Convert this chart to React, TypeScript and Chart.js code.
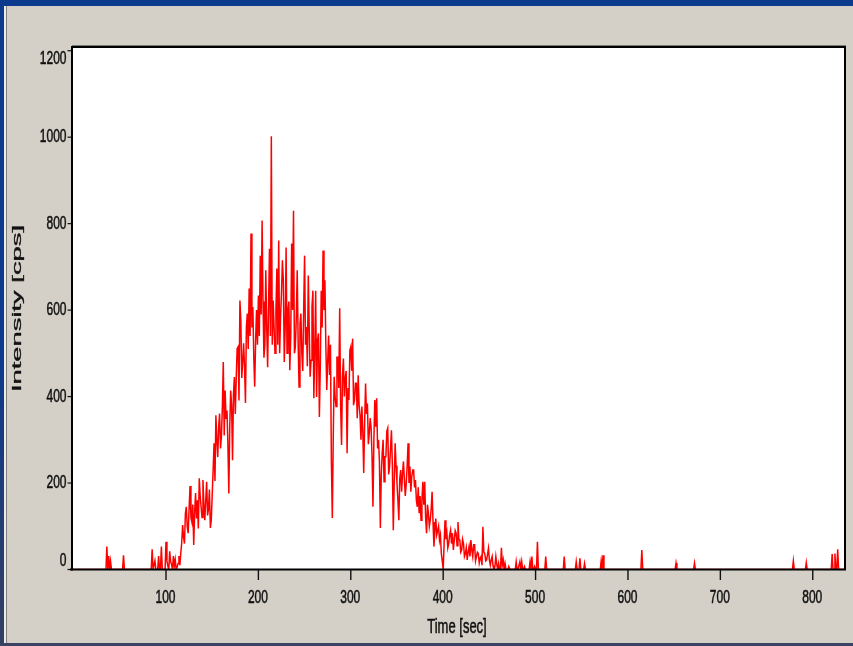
import { useEffect, useRef } from "react";
import { Chart, registerables } from "chart.js";

Chart.register(...registerables);

// Isolated background counts before the elution peak (s, cps)
const PRE_SPIKE_TIMES = [36, 38, 40, 54, 85, 88, 92, 95];
const PRE_SPIKE_VALUES = [53, 31, 19, 33, 47, 20, 31, 53];

// Main transient, one reading per second starting at PEAK_START
const PEAK_START = 98;
const DWELL = 1;
const PEAK_VALUES = [
  // 98 - 117
  0, 0, 64, 20, 8, 0, 42, 18, 12, 0, 31, 8, 23, 0, 5, 14, 31, 10, 38, 62,
  // 118 - 137
  103, 75, 60, 130, 145, 98, 84, 140, 193, 120, 110, 150, 57, 132, 177, 118, 160, 95, 211, 170,
  // 138 - 157
  145, 120, 207, 150, 114, 160, 203, 125, 140, 185, 96, 114, 172, 230, 292, 205, 357, 300, 260, 330,
  // 158 - 177
  361, 280, 307, 376, 480, 310, 414, 350, 368, 290, 176, 330, 414, 380, 253, 403, 445, 360, 442, 511,
  // 178 - 197
  515, 391, 622, 576, 443, 480, 523, 468, 385, 560, 592, 510, 650, 540, 777, 560, 607, 491, 423, 530,
  // 198 - 217
  600, 520, 634, 540, 726, 590, 807, 620, 490, 520, 692, 560, 468, 610, 742, 540, 1002, 520, 622, 560,
  // 218 - 237
  500, 600, 696, 520, 761, 500, 584, 640, 715, 669, 480, 560, 745, 500, 599, 620, 461, 540, 754, 600,
  // 238 - 257
  830, 500, 515, 580, 692, 530, 422, 569, 592, 500, 459, 600, 726, 520, 561, 470, 680, 560, 446, 484,
  // 258 - 277
  607, 645, 396, 500, 645, 399, 530, 546, 353, 470, 645, 560, 738, 600, 669, 520, 415, 480, 541, 450,
  // 278 - 297
  520, 250, 119, 300, 446, 400, 377, 491, 491, 420, 604, 380, 288, 446, 488, 400, 442, 459, 269, 420,
  // 298 - 317
  392, 507, 515, 460, 534, 380, 392, 431, 431, 350, 449, 380, 357, 300, 377, 320, 223, 340, 430, 360,
  // 318 - 337
  384, 290, 315, 350, 327, 260, 145, 300, 392, 330, 396, 280, 300, 250, 96, 220, 269, 300, 203, 261,
  // 338 - 357
  261, 320, 327, 220, 238, 280, 322, 240, 91, 200, 292, 240, 200, 160, 114, 210, 230, 180, 222, 250,
  // 358 - 377
  207, 170, 199, 240, 292, 200, 238, 180, 215, 230, 230, 190, 207, 160, 145, 190, 130, 170, 114, 160,
  // 378 - 397
  203, 150, 203, 120, 84, 150, 130, 100, 114, 140, 180, 110, 53, 90, 118, 80, 90, 100, 68, 80,
  // 398 - 417
  37, 20, 0, 60, 114, 70, 84, 50, 60, 80, 91, 60, 84, 45, 68, 90, 84, 55, 110, 70,
  // 418 - 437
  68, 40, 45, 70, 60, 30, 37, 50, 22, 40, 53, 30, 68, 45, 30, 57, 57, 20, 30, 40,
  // 438 - 457
  37, 15, 26, 30, 10, 99, 40, 37, 20, 22, 35, 49, 22, 10, 22, 30, 8, 0, 7, 30,
  // 458 - 477
  12, 0, 14, 0, 0, 50, 10, 22, 0, 14, 0, 0, 0, 7, 0, 0, 0, 0, 0, 0,
  // 478 - 497
  0, 18, 0, 0, 0, 18, 0, 18, 0, 0, 7, 0, 0, 0, 0, 0, 18, 0, 30, 0,
  // 498 - 512
  0, 7, 0, 0, 64, 0, 0, 0, 0, 0, 0, 0, 0, 30, 0,
];

// Isolated background counts after the peak (s, cps)
const POST_SPIKE_TIMES = [531, 544, 548, 553, 571, 573, 615, 652, 672, 779, 793, 821, 824, 827];
const POST_SPIKE_VALUES = [30, 18, 26, 14, 20, 33, 45, 15, 15, 20, 16, 36, 37, 47];

const RUN_START = -2;
const RUN_END = 836;

const X_TICKS = [100, 200, 300, 400, 500, 600, 700, 800];
const Y_TICKS = [0, 200, 400, 600, 800, 1000, 1200];
const X_TITLE = "Time [sec]";
const Y_TITLE = "Intensity [cps]";

const FONT = '"Liberation Sans", Arial, sans-serif';
const STRETCH = 1.6;

type Pt = { x: number; y: number };

function buildSeries(): Pt[] {
  const pts: Pt[] = [{ x: RUN_START, y: 0 }];
  const addSpike = (t: number, v: number) => {
    pts.push({ x: t - 1, y: 0 }, { x: t, y: v }, { x: t + 1, y: 0 });
  };
  PRE_SPIKE_TIMES.forEach((t, i) => addSpike(t, PRE_SPIKE_VALUES[i]));
  PEAK_VALUES.forEach((v, i) => pts.push({ x: PEAK_START + i * DWELL, y: v }));
  POST_SPIKE_TIMES.forEach((t, i) => addSpike(t, POST_SPIKE_VALUES[i]));
  pts.push({ x: RUN_END, y: 0 });
  return pts.sort((a, b) => a.x - b.x);
}

function stretchedText(
  ctx: CanvasRenderingContext2D,
  text: string,
  x: number,
  y: number,
  align: CanvasTextAlign,
  size: number,
  sy: number
) {
  ctx.save();
  ctx.translate(x, y);
  ctx.scale(1, sy);
  ctx.font = `${size}px ${FONT}`;
  ctx.textAlign = align;
  ctx.textBaseline = "middle";
  ctx.lineWidth = 0.35;
  ctx.strokeStyle = ctx.fillStyle;
  ctx.fillText(text, 0, 0);
  ctx.strokeText(text, 0, 0);
  ctx.restore();
}

const windowFrame = {
  id: "windowFrame",
  beforeDraw(chart: any) {
    const { ctx, width, height, chartArea: a } = chart;
    ctx.save();
    ctx.fillStyle = "#d4d0c8";
    ctx.fillRect(0, 0, width, height);

    const side = ctx.createLinearGradient(0, 0, 0, height);
    side.addColorStop(0, "#0c3a8c");
    side.addColorStop(0.55, "#0c3a8c");
    side.addColorStop(1, "#343f62");
    ctx.fillStyle = side;
    ctx.fillRect(0, 0, 4, height);
    ctx.fillStyle = "#0c3a8c";
    ctx.fillRect(0, 0, width, 6);
    ctx.fillStyle = "#3a4462";
    ctx.fillRect(0, 643, width, 3);
    ctx.fillStyle = "#ecebe6";
    ctx.fillRect(4, 6, 2, 637);
    ctx.fillStyle = "#808080";
    ctx.fillRect(6, 6, 1, 637);

    ctx.fillStyle = "#ffffff";
    ctx.fillRect(a.left, a.top, a.right - a.left, a.bottom - a.top);
    ctx.restore();
  },
  afterDatasetsDraw(chart: any) {
    const { ctx, chartArea: a, scales } = chart;
    const xs = scales.x;
    const ys = scales.y;
    ctx.save();
    // plot frame
    ctx.fillStyle = "#7a7a7a";
    ctx.fillRect(a.left, a.top - 2, 774, 1);
    ctx.fillStyle = "#000000";
    ctx.fillRect(a.left, a.top - 1, 774, 2);
    ctx.fillRect(844, a.top - 1, 2, a.bottom - a.top + 1);
    ctx.fillRect(71, a.top - 1, 2, a.bottom - a.top + 2);
    ctx.fillRect(70, 568.5, 776, 2);

    ctx.fillStyle = "#111111";
    // y ticks and labels
    Y_TICKS.forEach((v) => {
      const py = ys.getPixelForValue(v);
      ctx.fillRect(67.5, py - 0.6, 4, 1.2);
      const cy = Math.min(Math.max(py, a.top + 11.5), a.bottom - 8.5);
      stretchedText(ctx, String(v), 66.5, cy, "right", 12, STRETCH);
    });
    // x ticks and labels
    X_TICKS.forEach((v) => {
      const px = xs.getPixelForValue(v);
      ctx.fillRect(px - 0.7, 570, 1.4, 10);
      stretchedText(ctx, String(v), px - 0.5, 597.5, "center", 12, STRETCH);
    });

    // axis titles
    stretchedText(ctx, X_TITLE, 457, 627, "center", 13, STRETCH);

    ctx.save();
    ctx.font = `12px ${FONT}`;
    const w = ctx.measureText(Y_TITLE).width;
    ctx.translate(17.5, 308.5);
    ctx.rotate(-Math.PI / 2);
    ctx.scale(167 / w, 1);
    ctx.textAlign = "center";
    ctx.textBaseline = "middle";
    ctx.lineWidth = 0.3;
    ctx.strokeStyle = "#111111";
    ctx.fillText(Y_TITLE, 0, 0);
    ctx.strokeText(Y_TITLE, 0, 0);
    ctx.restore();

    ctx.restore();
  },
};

export default function App() {
  const canvasRef = useRef<HTMLCanvasElement | null>(null);

  useEffect(() => {
    const canvas = canvasRef.current;
    if (!canvas) return;
    const chart = new Chart(canvas, {
      type: "line",
      data: {
        datasets: [
          {
            data: buildSeries(),
            borderColor: "#ff0000",
            borderWidth: 1.5,
            pointRadius: 0,
            tension: 0,
            fill: false,
          },
        ],
      },
      options: {
        animation: false,
        responsive: false,
        devicePixelRatio: 1,
        events: [],
        layout: {
          autoPadding: false,
          padding: { left: 72, top: 47, right: 8, bottom: 76.5 },
        },
        plugins: {
          legend: { display: false },
          tooltip: { enabled: false },
        },
        scales: {
          x: { type: "linear", min: -1.74, max: 834.9, display: false },
          y: { type: "linear", min: 0, max: 1208.6, display: false },
        },
      },
      plugins: [windowFrame],
    });
    return () => chart.destroy();
  }, []);

  return (
    <div style={{ position: "fixed", left: 0, top: 0, width: 853, height: 646 }}>
      <canvas ref={canvasRef} width={853} height={646} style={{ display: "block" }} />
    </div>
  );
}
